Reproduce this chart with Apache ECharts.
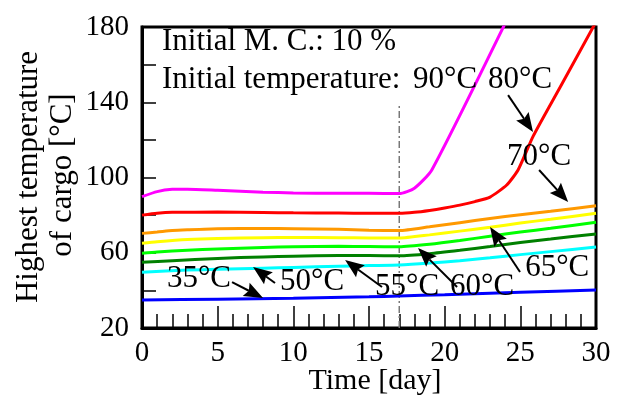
<!DOCTYPE html>
<html>
<head>
<meta charset="utf-8">
<script src="https://cdn.jsdelivr.net/npm/echarts@6/dist/echarts.min.js"></script>
<style>html,body{margin:0;padding:0;background:#fff}#c{width:624px;height:399px}</style>
</head>
<body>
<div id="c"></div>
<script>
// ---- data (days, highest temperature of cargo) ----
const d90 = [0, 1, 2, 3, 5, 8, 10, 13, 15, 17, 18, 19.15, 24];
const v90 = [89.8, 92.5, 93.7, 93.8, 93.2, 92.2, 91.8, 91.6, 91.6, 91.5, 94.3, 104, 182];
const d80 = [0, 1, 2, 5, 8, 10, 13, 15, 17, 18, 19, 20, 21, 22, 23, 24.1, 24.85, 25.85, 27.6, 30];
const v80 = [80, 81, 81.5, 81.6, 81.4, 81.2, 81.1, 81, 81, 81.5, 82.5, 83.8, 85.3, 87.2, 89.6, 96, 104, 122, 147.6, 182.7];
const d70 = [0, 1, 2, 3, 5, 8, 10, 13, 15, 17, 19, 21, 23, 25, 27, 30];
const v70 = [70.3, 71, 71.8, 72.2, 72.8, 72.9, 72.8, 72.5, 72, 71.8, 73.8, 76, 78.2, 80.2, 82, 85];
const d65 = [0, 1, 3, 5, 8, 10, 13, 15, 17, 19, 21, 23, 25, 27, 30];
const v65 = [65, 65.8, 67, 67.6, 68, 68.1, 68, 67.9, 67.8, 69.5, 71.5, 73.5, 75.8, 77.8, 81];
const d60 = [0, 1, 3, 5, 8, 10, 13, 15, 17, 19, 21, 23, 25, 27, 30];
const v60 = [59.7, 60.4, 61.3, 62, 62.8, 63.2, 63.4, 63.3, 63.2, 64.5, 66.5, 68.8, 71, 73, 76.2];
const d55 = [0, 2, 5, 8, 10, 13, 15, 17, 19, 21, 23, 25, 27, 30];
const v55 = [54.9, 55.8, 57, 57.8, 58.2, 58.5, 58.5, 58.4, 59.5, 61.3, 63.3, 65.5, 67.3, 70];
const d50 = [0, 3, 5, 8, 10, 13, 15, 17, 19, 21, 23, 25, 27, 30];
const v50 = [49.6, 50.8, 51.2, 51.8, 52.2, 52.8, 53.2, 53.5, 54.5, 55.8, 57.3, 59, 60.6, 63];
const d35 = [0, 5, 10, 15, 17, 20, 25, 30];
const v35 = [34.9, 35.3, 35.8, 36.6, 37, 37.7, 39, 40.2];

const xTicks = [0, 5, 10, 15, 20, 25, 30];
const yTicks = [20, 60, 100, 140, 180];

const colors = ['#ff00ff', '#ff0000', '#ff9900', '#ffff00', '#00ff00', '#008000', '#00ffff', '#0000ff'];
const seriesDays = [d90, d80, d70, d65, d60, d55, d50, d35];
const seriesVals = [v90, v80, v70, v65, v60, v55, v50, v35];

// reference vertical line (day 17)
const refDay = 17;
const refRange = [20, 138];

// annotations in data coordinates: text, [day, value] (left, baseline)
const notes = [
  ['Initial M. C.: 10 %', [1.32, 166.7]],
  ['Initial temperature:', [1.32, 146.5]],
  ['90\u00B0C', [17.91, 146.5]],
  ['80\u00B0C', [22.87, 146.5]],
  ['70\u00B0C', [24.12, 105.6]],
  ['35\u00B0C', [1.65, 40.7]],
  ['50\u00B0C', [9.12, 39.1]],
  ['55\u00B0C', [15.4, 36.5]],
  ['60\u00B0C', [20.36, 36.5]],
  ['65\u00B0C', [25.32, 46.6]]
];
// arrows: [tail, tip]
const arrows = [
  [[24.19, 143.8], [25.84, 124.2]],
  [[26.24, 104.0], [28.16, 87.0]],
  [[5.95, 44.4], [8.0, 35.9]],
  [[8.79, 43.9], [7.34, 52.4]],
  [[15.86, 41.8], [13.42, 56.1]],
  [[20.82, 41.8], [18.24, 62.5]],
  [[24.98, 49.8], [23.0, 73.7]]
];

const FONT = "'Liberation Serif','Times New Roman',serif";
const chart = echarts.init(document.getElementById('c'), null, {renderer: 'canvas'});

const series = seriesDays.map((ds, i) => ({
  type: 'line',
  data: ds.map((d, j) => [d, seriesVals[i][j]]),
  showSymbol: false,
  smooth: 0.2,
  lineStyle: {color: colors[i], width: 3},
  z: 3,
  clip: true,
  silent: true
}));
series.push({
  type: 'line',
  data: [[refDay, refRange[0]], [refDay, refRange[1]]],
  showSymbol: false,
  lineStyle: {color: '#777', width: 1.5, type: [7, 3, 2, 3]},
  z: 2,
  silent: true
});

chart.setOption({
  animation: false,
  backgroundColor: '#fff',
  grid: {left: 142, right: 28, top: 27, bottom: 71, show: true, borderColor: '#000', borderWidth: 3, backgroundColor: 'transparent'},
  xAxis: {
    type: 'value', min: 0, max: 30, interval: 5,
    axisLine: {lineStyle: {color: '#000', width: 3}},
    axisTick: {inside: true, length: 22, lineStyle: {color: '#000', width: 1.5}},
    minorTick: {show: true, splitNumber: 5, length: 14, lineStyle: {color: '#000', width: 1.5}},
    splitLine: {show: false},
    axisLabel: {color: '#000', fontSize: 29, fontFamily: FONT, margin: 11,
      formatter: v => xTicks.includes(v) ? String(v) : ''}
  },
  yAxis: {
    type: 'value', min: 20, max: 180, interval: 20,
    axisLine: {show: true, lineStyle: {color: '#000', width: 3}},
    axisTick: {show: true, inside: true, length: 14, lineStyle: {color: '#000', width: 1.5}},
    splitLine: {show: false},
    axisLabel: {color: '#000', fontSize: 29, fontFamily: FONT, margin: 13,
      formatter: v => yTicks.includes(v) ? String(v) : ''}
  },
  series: series
});

const g = [];
const px = p => chart.convertToPixel({gridIndex: 0}, p);
notes.forEach(([t, p]) => {
  const q = px(p);
  g.push({type: 'text', x: q[0], y: q[1] - 10, z: 10, silent: true,
    style: {text: t, fill: '#000', font: '31px ' + FONT, align: 'left', verticalAlign: 'middle'}});
});
arrows.forEach(([a, b]) => {
  const p0 = px(a), p1 = px(b);
  const dx = p1[0] - p0[0], dy = p1[1] - p0[1];
  const L = Math.hypot(dx, dy), ux = dx / L, uy = dy / L;
  const hl = 19, hw = 7.5;
  const bx = p1[0] - ux * hl, by = p1[1] - uy * hl;
  g.push({type: 'line', z: 10, silent: true, shape: {x1: p0[0], y1: p0[1], x2: bx + ux * 3, y2: by + uy * 3},
    style: {stroke: '#000', lineWidth: 2}});
  g.push({type: 'polygon', z: 10, silent: true,
    shape: {points: [[p1[0], p1[1]], [bx - uy * hw, by + ux * hw], [bx + ux * 3, by + uy * 3], [bx + uy * hw, by - ux * hw]]},
    style: {fill: '#000'}});
});
// axis titles
g.push({type: 'text', x: 375, y: 381, z: 10, silent: true,
  style: {text: 'Time [day]', fill: '#000', font: '30px ' + FONT, align: 'center', verticalAlign: 'middle'}});
g.push({type: 'text', x: 29, y: 177, rotation: Math.PI / 2, z: 10, silent: true,
  style: {text: 'Highest temperature', fill: '#000', font: '31px ' + FONT, align: 'center', verticalAlign: 'middle'}});
g.push({type: 'text', x: 63, y: 175, rotation: Math.PI / 2, z: 10, silent: true,
  style: {text: 'of cargo [\u00B0C]', fill: '#000', font: '31px ' + FONT, align: 'center', verticalAlign: 'middle'}});
chart.setOption({graphic: g});
</script>
</body>
</html>
